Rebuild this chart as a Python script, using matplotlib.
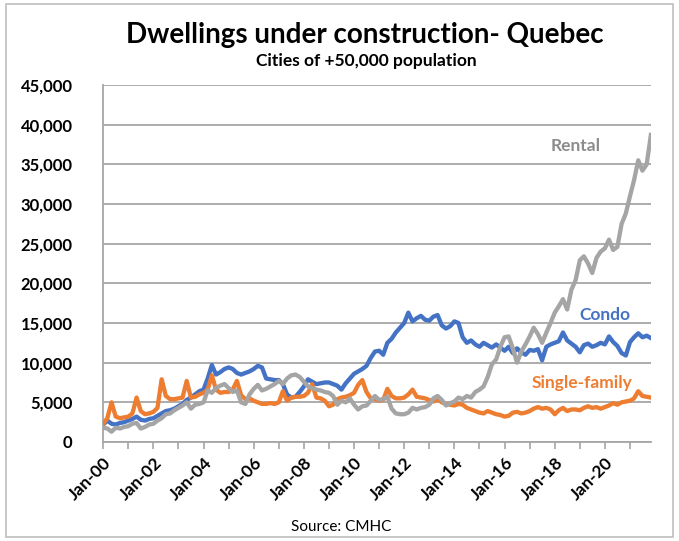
import matplotlib
matplotlib.use("Agg")
import matplotlib.pyplot as plt
import matplotlib.dates as mdates
from matplotlib.ticker import FuncFormatter
from matplotlib.patches import Rectangle
import pandas as pd

plt.rcParams["font.family"] = ["Lato", "DejaVu Sans"]

# bimonthly readings (Jan, Mar, May, Jul, Sep, Nov), Jan 2000 - Nov 2021
dates = pd.date_range("2000-01-01", periods=132, freq="2MS")

single_family = [
    2300, 3000, 5000, 3200, 3000, 3100,
    3200, 3600, 5600, 3900, 3500, 3600,
    3800, 4300, 7900, 5800, 5400, 5400,
    5500, 5600, 7700, 5600, 5700, 6000,
    6200, 6600, 8400, 6600, 6200, 6300,
    6300, 6600, 7700, 5900, 5400, 5500,
    5200, 5000, 4800, 4800, 4900, 4800,
    5000, 6400, 5200, 5600, 5700, 5700,
    5800, 6200, 7300, 5600, 5500, 5200,
    4500, 4700, 5400, 5600, 5700, 5900,
    6200, 7200, 7800, 6300, 5500, 5400,
    5200, 5300, 6700, 5800, 5500, 5500,
    5600, 6000, 6600, 5700, 5600, 5500,
    5300, 5100, 5400, 5000, 4800, 4700,
    4600, 4800, 4700, 4300, 4100, 3900,
    3700, 3600, 3900, 3700, 3500, 3400,
    3200, 3300, 3700, 3800, 3600, 3700,
    3900, 4200, 4400, 4200, 4300, 4100,
    3500, 4000, 4300, 3900, 4100, 4100,
    4000, 4300, 4500, 4300, 4400, 4200,
    4400, 4600, 4900, 4700, 5000, 5100,
    5200, 5500, 6400, 5800, 5700, 5600,
]

condo = [
    2200, 2700, 2300, 2200, 2400, 2500,
    2700, 2900, 3200, 2800, 2700, 2900,
    3000, 3300, 3600, 3900, 4000, 4200,
    4500, 4800, 5300, 5600, 6000, 6400,
    6600, 8000, 9700, 8500, 8800, 9200,
    9400, 9200, 8700, 8500, 8700, 8900,
    9200, 9600, 9400, 8000, 7900, 7800,
    7800, 7300, 6000, 5600, 5700, 6300,
    7000, 7900, 7600, 7300, 7400, 7500,
    7500, 7300, 7100, 6600, 7400, 8000,
    8600, 8900, 9200, 9600, 10600, 11400,
    11500, 11000, 12500, 13000, 13800, 14400,
    15000, 16300, 15200, 15600, 15900, 15400,
    15300, 15800, 16000, 14700, 14300, 14600,
    15200, 15000, 13200, 12500, 12800, 12300,
    12000, 12500, 12200, 11900, 12300, 11900,
    11500, 12000, 11200, 11800, 11300, 11000,
    11600, 11500, 11700, 10300, 12000, 12300,
    12500, 12700, 13800, 12800, 12400, 12000,
    11300, 12200, 12400, 12000, 12200, 12500,
    12300, 13300, 12600, 12100, 11200, 10900,
    12600, 13200, 13700, 13200, 13400, 13100,
]

rental = [
    1800, 1700, 1300, 1800, 1700, 1900,
    2000, 2300, 2400, 1700, 1900, 2200,
    2300, 2700, 3000, 3500, 3600, 4000,
    4300, 4600, 5000, 4200, 4700, 4800,
    5000, 6500, 6200, 6800, 7100, 7300,
    6800, 6300, 6500, 5000, 4800, 6000,
    6700, 7200, 6500, 6700, 7000, 7300,
    7700, 7300, 8000, 8400, 8500, 8200,
    7600, 7000, 6800, 6600, 6500, 6300,
    6200, 5800, 4700, 5200, 5000, 5500,
    4700, 4100, 4500, 4600, 5200, 5800,
    5300, 5400, 5700, 4200, 3600, 3500,
    3500, 3700, 4300, 4100, 4300, 4400,
    4700, 5500, 5800, 5300, 4600, 4900,
    5100, 5600, 5400, 5800, 5600, 6300,
    6600, 7000, 8200, 9800, 10400, 12000,
    13200, 13300, 11800, 10000, 11400, 12300,
    13300, 14400, 13600, 12500, 13800, 15000,
    16300, 17100, 18000, 16700, 19200, 20400,
    22900, 23400, 22500, 21300, 23200, 24000,
    24400, 25500, 24200, 24600, 27500, 28800,
    31000, 33000, 35500, 34200, 35000, 38700,
]

blue = "#4472C4"
orange = "#ED7D31"
grey = "#A5A5A5"
axis_grey = "#A6A6A6"

fig = plt.figure(figsize=(6.79, 5.41), dpi=100)
ax = fig.add_axes([0.152, 0.183, 0.807, 0.660])

ax.plot(dates, condo, color=blue, lw=3.1, zorder=3, solid_joinstyle="round")
ax.plot(dates, single_family, color=orange, lw=3.1, zorder=4, solid_joinstyle="round")
ax.plot(dates, rental, color=grey, lw=3.1, zorder=5, solid_joinstyle="round")

ax.set_ylim(0, 45000)
ax.set_yticks(range(0, 45001, 5000))
ax.yaxis.set_major_formatter(FuncFormatter(lambda v, p: f"{int(v):,}"))
ax.set_xlim(pd.Timestamp("2000-01-01"), pd.Timestamp("2021-11-05"))
ax.xaxis.set_major_locator(mdates.YearLocator(2))
ax.xaxis.set_minor_locator(mdates.YearLocator(1))
ax.xaxis.set_major_formatter(mdates.DateFormatter("%b-%y"))

ax.grid(axis="y", color=axis_grey, lw=1.3)
ax.set_axisbelow(True)
for side in ["top", "right"]:
    ax.spines[side].set_visible(False)
for side in ["left", "bottom"]:
    ax.spines[side].set_color(axis_grey)
    ax.spines[side].set_linewidth(1.3)

ax.tick_params(axis="y", length=0, pad=22, labelsize=12)
ax.tick_params(axis="x", which="both", length=5, color=axis_grey, width=1.2,
               labelsize=12.5, pad=4)
for lab in ax.get_yticklabels():
    lab.set_fontweight("bold")
for lab in ax.get_xticklabels():
    lab.set_fontweight("bold")
    lab.set_rotation(45)
    lab.set_ha("right")
    lab.set_rotation_mode("anchor")

ax.text(pd.Timestamp("2018-11-01"), 37300, "Rental", color="#8C8C8C",
        fontsize=12.5, fontweight="bold", ha="center", va="center")
ax.text(pd.Timestamp("2020-01-01"), 16000, "Condo", color=blue,
        fontsize=12.5, fontweight="bold", ha="center", va="center")
ax.text(pd.Timestamp("2019-02-01"), 7400, "Single-family", color=orange,
        fontsize=12.5, fontweight="bold", ha="center", va="center")

fig.text(0.538, 0.935, "Dwellings under construction- Quebec",
         fontsize=20, fontweight="bold", ha="center", va="center")
fig.text(0.54, 0.887, "Cities of +50,000 population",
         fontsize=12.5, fontweight="bold", ha="center", va="center")
fig.text(0.503, 0.025, "Source: CMHC", fontsize=11, ha="center", va="center")

fig.add_artist(Rectangle((0.009, 0.008), 0.982, 0.985, transform=fig.transFigure,
                         fill=False, edgecolor="#BFBFBF", lw=1.2))

fig.savefig("out.png", dpi=100)
